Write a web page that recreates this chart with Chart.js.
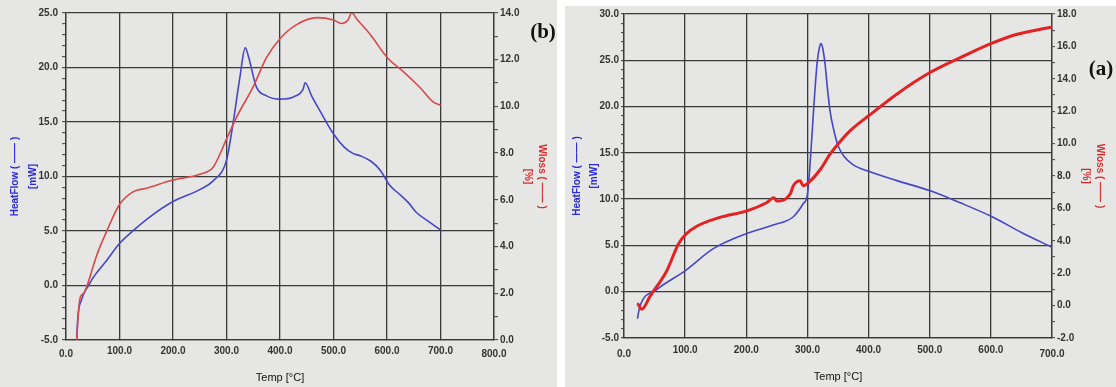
<!DOCTYPE html>
<html>
<head>
<meta charset="utf-8">
<script src="https://cdn.jsdelivr.net/npm/chart.js@4.4.1/dist/chart.umd.min.js"></script>
<style>
  body { margin: 0; background: #fff; }
  #wrapB { position: absolute; left: 0; top: 0; width: 557px; height: 387px; background: #e6e6e4; }
  #wrapA { position: absolute; left: 565px; top: 6px; width: 551px; height: 381px; background: #e6e6e4; }
</style>
</head>
<body>
<div id="wrapB"><canvas id="chartB"></canvas></div>
<div id="wrapA"><canvas id="chartA"></canvas></div>
<script>
// panel (b)
const heatTempB = [20, 22, 29, 42, 54, 76, 100, 126, 157, 200, 250, 275, 300, 312, 325, 335, 340, 356, 375, 400, 425, 443, 447, 460, 475, 500, 520, 537, 550, 570, 587, 605, 618, 640, 655, 680, 700];
const heatFlowB = [-5.0, -3.0, -1.3, 0.0, 0.95, 2.3, 3.85, 5.05, 6.3, 7.7, 8.8, 9.6, 11.5, 14.8, 19.1, 21.8, 21.2, 18.2, 17.4, 17.1, 17.3, 18.0, 18.6, 17.3, 16.0, 13.9, 12.7, 12.1, 11.9, 11.4, 10.6, 9.2, 8.6, 7.6, 6.7, 5.8, 5.1];
const wlossTempB = [20, 24, 27, 33, 39, 57, 76, 100, 126, 150, 200, 250, 275, 300, 319, 350, 375, 400, 431, 469, 500, 515, 527, 534, 545, 568, 602, 630, 662, 686, 700];
const wlossB = [0.0, 1.4, 1.85, 2.0, 2.3, 3.6, 4.65, 5.8, 6.35, 6.5, 6.85, 7.1, 7.4, 8.6, 9.55, 10.85, 12.1, 12.9, 13.5, 13.8, 13.7, 13.55, 13.7, 14.0, 13.7, 13.1, 12.05, 11.5, 10.8, 10.2, 10.05];

// panel (a)
const heatTempA = [22, 26, 53, 101, 146, 201, 244, 277, 293, 300, 304, 308, 312, 316, 320, 322, 325, 329, 333, 337, 343, 350, 360, 375, 400, 446, 501, 550, 602, 650, 700];
const heatFlowA = [-2.9, -1.6, 0.2, 2.3, 4.65, 6.3, 7.2, 8.1, 9.5, 10.5, 13.5, 17.5, 21.5, 24.8, 26.5, 26.8, 26.3, 24.5, 21.8, 19.5, 17.5, 15.8, 14.6, 13.7, 13.0, 12.0, 10.9, 9.6, 8.1, 6.4, 4.8];
const wlossTempA = [21, 23, 29, 43, 70, 89, 101, 119, 157, 201, 233, 245, 250, 272, 277, 288, 293, 302, 321, 337, 354, 370, 403, 446, 501, 555, 602, 643, 700];
const wlossA = [0.1, 0.08, -0.23, 0.6, 2.15, 3.8, 4.4, 4.9, 5.45, 5.85, 6.35, 6.65, 6.45, 6.9, 7.4, 7.7, 7.4, 7.6, 8.4, 9.35, 10.15, 10.8, 11.8, 13.05, 14.4, 15.4, 16.2, 16.75, 17.2];

const AXIS = '#3a3a3a';
const TICK_FONT = { family: '"Liberation Sans", Arial, sans-serif', size: 10, weight: 'bold' };

function pairs(xs, ys) {
    return xs.map((x, i) => ({ x: x, y: ys[i] }));
}

const panelLabel = {
    id: 'panelLabel',
    afterDraw(chart, args, opts) {
        const ctx = chart.ctx;
        ctx.save();
        ctx.font = 'bold 21px "Liberation Serif", serif';
        ctx.fillStyle = '#111';
        ctx.textAlign = 'center';
        ctx.textBaseline = 'middle';
        ctx.fillText(opts.text, opts.x, opts.y);
        ctx.restore();
    }
};

function yAxis(pos, min, max, major, o) {
    return {
        type: 'linear',
        position: pos,
        min: min,
        max: max,
        afterFit: (s) => { s.width = o.width; },
        border: { color: AXIS, width: 1.3 },
        grid: {
            drawOnChartArea: pos === 'left',
            color: (c) => (c.tick && c.tick.value % major === 0) ? AXIS : 'rgba(0,0,0,0)',
            lineWidth: 1.3,
            tickColor: AXIS,
            tickWidth: 1,
            tickLength: o.tl
        },
        ticks: {
            stepSize: 1,
            autoSkip: false,
            padding: o.pad,
            color: '#333',
            font: TICK_FONT,
            callback: (v) => v % major === 0 ? v.toFixed(1) : ''
        },
        title: {
            display: true,
            text: o.title,
            color: o.color,
            font: { family: '"Liberation Sans", Arial, sans-serif', size: 10, weight: 'bold', lineHeight: o.lh },
            padding: { top: o.tpad, bottom: 0 }
        }
    };
}

function xAxis(max, o) {
    return {
        type: 'linear',
        min: 0,
        max: max,
        afterFit: (s) => { s.height = o.height; },
        border: { color: AXIS, width: 1.3 },
        grid: { color: AXIS, lineWidth: 1.3, tickLength: 0 },
        ticks: {
            stepSize: 100,
            autoSkip: false,
            maxRotation: 0,
            padding: o.pad,
            color: '#333',
            // first and last labels sit a bit lower in the original
            font: (c) => {
                const edge = c.tick && (c.tick.value === 0 || c.tick.value === max);
                return Object.assign({}, TICK_FONT, { lineHeight: edge ? o.edgeLh : 1.2 });
            },
            callback: (v) => v.toFixed(1)
        },
        title: {
            display: true,
            text: 'Temp [°C]',
            color: '#111',
            font: { family: '"Liberation Sans", Arial, sans-serif', size: 11 },
            padding: { top: 0, bottom: o.tpad }
        }
    };
}

function makeChart(id, p) {
    return new Chart(document.getElementById(id), {
        type: 'line',
        data: {
            datasets: [
                {
                    label: 'Wloss',
                    data: pairs(p.wt, p.w),
                    yAxisID: 'y2',
                    borderColor: p.redColor,
                    borderWidth: p.redWidth,
                    pointRadius: 0,
                    cubicInterpolationMode: 'monotone'
                },
                {
                    label: 'HeatFlow',
                    data: pairs(p.ht, p.h),
                    yAxisID: 'y',
                    borderColor: '#4646c8',
                    borderWidth: 1.6,
                    pointRadius: 0,
                    cubicInterpolationMode: 'monotone'
                }
            ]
        },
        options: {
            responsive: true,
            maintainAspectRatio: false,
            animation: false,
            layout: { padding: { top: p.top, left: 0, right: 0, bottom: 0 } },
            plugins: {
                legend: { display: false },
                tooltip: { enabled: false },
                panelLabel: p.label
            },
            scales: {
                x: p.x,
                y: p.y,
                y2: p.y2
            }
        },
        plugins: [panelLabel]
    });
}

makeChart('chartB', {
    ht: heatTempB, h: heatFlowB, wt: wlossTempB, w: wlossB,
    redColor: '#d84848', redWidth: 1.6, top: 13,
    label: { text: '(b)', x: 543, y: 33 },
    x: xAxis(800, { height: 47, pad: 5, edgeLh: 1.8, tpad: 2.5 }),
    y: yAxis('left', -5, 25, 5, { width: 66, tl: 4, pad: 4, title: ['HeatFlow ( —— )', '[mW]'], color: '#2a2ae0', lh: 1.8, tpad: 6 }),
    y2: yAxis('right', 0, 14, 2, { width: 63, tl: 4, pad: 2, title: ['Wloss ( —— )', '[%]'], color: '#e02a2a', lh: 1.4, tpad: 8 })
});

makeChart('chartA', {
    ht: heatTempA, h: heatFlowA, wt: wlossTempA, w: wlossA,
    redColor: '#e42222', redWidth: 3, top: 7,
    label: { text: '(a)', x: 536, y: 64 },
    x: xAxis(700, { height: 49, pad: 6, edgeLh: 2.0, tpad: 3.5 }),
    y: yAxis('left', -5, 30, 5, { width: 59, tl: 3, pad: 2, title: ['HeatFlow ( —— )', '[mW]'], color: '#2a2ae0', lh: 1.7, tpad: 3.5 }),
    y2: yAxis('right', -2, 18, 2, { width: 64, tl: 3, pad: 2, title: ['Wloss ( —— )', '[%]'], color: '#e02a2a', lh: 1.4, tpad: 9 })
});
</script>
</body>
</html>
